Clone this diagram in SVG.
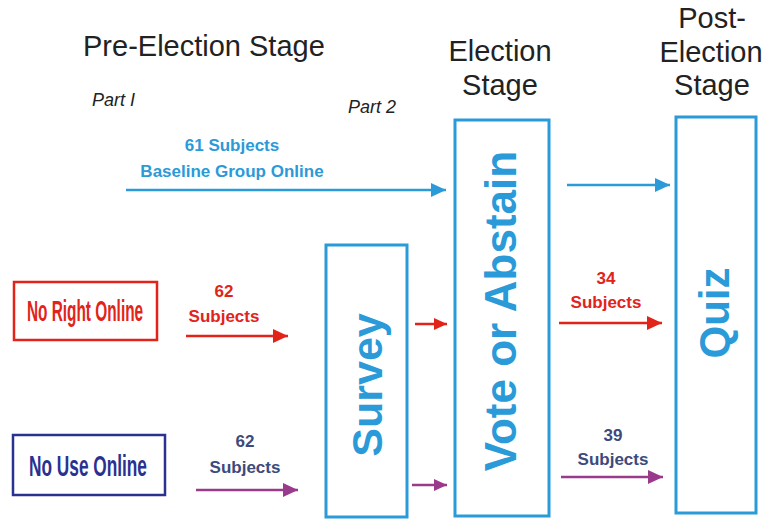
<svg xmlns="http://www.w3.org/2000/svg" width="764" height="520" viewBox="0 0 764 520">
<style>
.hd{font-family:"Liberation Sans",Arial,sans-serif;font-size:29px;fill:#222;}
.pt{font-family:"Liberation Sans",Arial,sans-serif;font-size:18px;font-style:italic;fill:#222;}
.lb{font-family:"Liberation Sans",Arial,sans-serif;font-size:17px;font-weight:bold;text-anchor:middle;}
.big{font-family:"Liberation Sans",Arial,sans-serif;font-weight:bold;fill:#2b9ad8;text-anchor:middle;}
.cond{font-family:"Liberation Sans",Arial,sans-serif;font-size:30px;font-weight:bold;text-anchor:middle;}
.box{fill:none;stroke:#2b9ad8;stroke-width:3;}
.ln{fill:none;stroke-width:2.5;}
</style>
<defs>
<marker id="ab" markerUnits="userSpaceOnUse" markerWidth="16" markerHeight="14" refX="15" refY="7" orient="auto"><path d="M0,0 L15,7 L0,14 Z" fill="#2b9ad8"/></marker>
<marker id="ar" markerUnits="userSpaceOnUse" markerWidth="16" markerHeight="14" refX="15" refY="7" orient="auto"><path d="M0,0 L15,7 L0,14 Z" fill="#e2231a"/></marker>
<marker id="ap" markerUnits="userSpaceOnUse" markerWidth="16" markerHeight="14" refX="15" refY="7" orient="auto"><path d="M0,0 L15,7 L0,14 Z" fill="#9a3a8c"/></marker>
<marker id="ars" markerUnits="userSpaceOnUse" markerWidth="14" markerHeight="12" refX="13" refY="6" orient="auto"><path d="M0,0 L13,6 L0,12 Z" fill="#e2231a"/></marker>
<marker id="aps" markerUnits="userSpaceOnUse" markerWidth="14" markerHeight="12" refX="13" refY="6" orient="auto"><path d="M0,0 L13,6 L0,12 Z" fill="#9a3a8c"/></marker>
</defs>
<rect width="764" height="520" fill="#fff"/>

<g id="headings">
<text class="hd" x="83" y="56">Pre-Election Stage</text>
<text class="hd" x="500" y="61" text-anchor="middle">Election</text>
<text class="hd" x="500" y="95" text-anchor="middle">Stage</text>
<text class="hd" x="712" y="28" text-anchor="middle">Post-</text>
<text class="hd" x="711" y="62" text-anchor="middle" font-size="28">Election</text>
<text class="hd" x="712" y="95" text-anchor="middle">Stage</text>
<text class="pt" x="92" y="106">Part I</text>
<text class="pt" x="348" y="113">Part 2</text>
</g>

<g id="no-right-online">
<rect x="14" y="282" width="143" height="58" fill="none" stroke="#e2231a" stroke-width="2.5"/>
<text class="cond" fill="#e2231a" transform="translate(85,321) scale(0.513,1)">No Right Online</text>
</g>

<g id="no-use-online">
<rect x="13" y="435" width="152" height="60" fill="none" stroke="#2a3190" stroke-width="2.5"/>
<text class="cond" fill="#2a3190" transform="translate(88,476) scale(0.575,1)">No Use Online</text>
</g>

<g id="survey">
<rect class="box" x="326" y="245" width="81" height="272"/>
<text class="big" font-size="43" transform="translate(382,385) rotate(-90)">Survey</text>
</g>

<g id="vote-or-abstain">
<rect class="box" x="455" y="120" width="94" height="396"/>
<text class="big" font-size="44" transform="translate(516,311) rotate(-90)">Vote or Abstain</text>
</g>

<g id="quiz">
<rect class="box" x="676" y="117" width="80" height="396"/>
<text class="big" font-size="42" transform="translate(729,313) rotate(-90)">Quiz</text>
</g>

<g id="connectors">
<line class="ln" x1="126" y1="190" x2="446" y2="190" stroke="#2b9ad8" marker-end="url(#ab)"/>
<line class="ln" x1="567" y1="185" x2="670" y2="185" stroke="#2b9ad8" marker-end="url(#ab)"/>
<line class="ln" x1="186" y1="336" x2="288" y2="336" stroke="#e2231a" marker-end="url(#ar)"/>
<line class="ln" x1="415" y1="324" x2="447" y2="324" stroke="#e2231a" marker-end="url(#ars)"/>
<line class="ln" x1="559" y1="323" x2="662" y2="323" stroke="#e2231a" marker-end="url(#ar)"/>
<line class="ln" x1="196" y1="490" x2="298" y2="490" stroke="#9a3a8c" marker-end="url(#ap)"/>
<line class="ln" x1="412" y1="485" x2="447" y2="485" stroke="#9a3a8c" marker-end="url(#aps)"/>
<line class="ln" x1="561" y1="477" x2="663" y2="477" stroke="#9a3a8c" marker-end="url(#ap)"/>
<text class="lb" x="232" y="151" fill="#2b9ad8">61 Subjects</text>
<text class="lb" x="232" y="177" fill="#2b9ad8">Baseline Group Online</text>
<text class="lb" x="224" y="297" fill="#e2231a">62</text>
<text class="lb" x="224" y="322" fill="#e2231a">Subjects</text>
<text class="lb" x="245" y="447" fill="#3d4a7a">62</text>
<text class="lb" x="245" y="473" fill="#3d4a7a">Subjects</text>
<text class="lb" x="606" y="284" fill="#e2231a">34</text>
<text class="lb" x="606" y="308" fill="#e2231a">Subjects</text>
<text class="lb" x="613" y="441" fill="#3d4a7a">39</text>
<text class="lb" x="613" y="465" fill="#3d4a7a">Subjects</text>
</g>
</svg>
